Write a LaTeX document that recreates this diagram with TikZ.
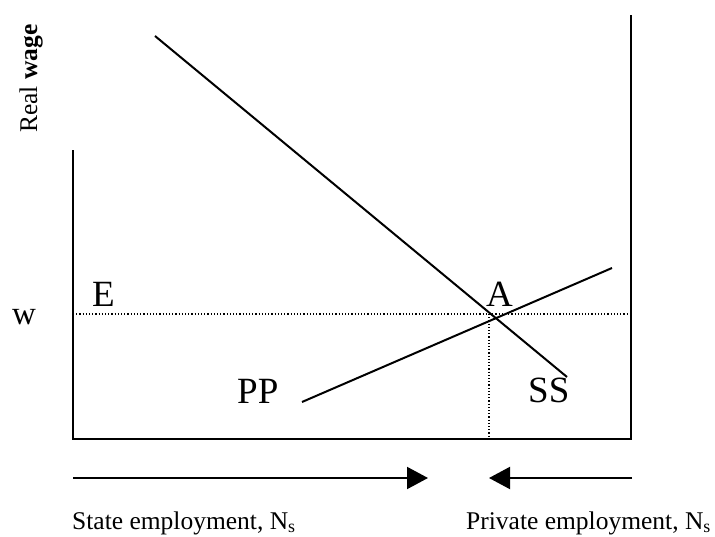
\documentclass[tikz,border=0pt]{standalone}
\usepackage{fontspec}
\setmainfont{Liberation Serif}
\usetikzlibrary{arrows.meta}
\begin{document}
\begin{tikzpicture}[x=1pt,y=-1pt,
  axisline/.style={line width=2pt,line cap=rect},
  curve/.style={line width=2pt},
  guide/.style={line width=1.2pt,dotted},
  dirarrow/.style={line width=2pt,-{Triangle[length=21pt,width=22pt]}},
  biglbl/.style={font=\fontsize{37}{40}\selectfont,inner sep=0pt,anchor=base west},
  smalllbl/.style={font=\fontsize{25.5}{28}\selectfont,inner sep=0pt,anchor=base west}]
\useasboundingbox (0,0) rectangle (715,537);
% axes
\coordinate (ltop) at (73,151);
\coordinate (lbot) at (73,439);
\coordinate (rbot) at (631,439);
\coordinate (rtop) at (631,16);
\draw[axisline] (ltop) -- (lbot) -- (rbot) -- (rtop);
% guides
\coordinate (gl) at (73,314);
\coordinate (gr) at (631,314);
\coordinate (gv) at (489,314);
\coordinate (gb) at (489,439);
\draw[guide] (gl) -- (gr);
\draw[guide] (gv) -- (gb);
% curves
\coordinate (ss1) at (155,36);
\coordinate (ss2) at (567,377);
\coordinate (pp1) at (302,402);
\coordinate (pp2) at (612,268);
\draw[curve] (ss1) -- (ss2);
\draw[curve] (pp1) -- (pp2);
% arrows
\coordinate (a1s) at (73,478);
\coordinate (a1e) at (428,478);
\coordinate (a2s) at (632,478);
\coordinate (a2e) at (489,478);
\draw[dirarrow] (a1s) -- (a1e);
\draw[dirarrow] (a2s) -- (a2e);
% labels
\node[biglbl] (E) at (92,307) {E};
\node[biglbl] (A) at (486,307) {A};
\node[biglbl] (PP) at (237,403) {PP};
\node[biglbl] (SS) at (528,402) {SS};
\node[biglbl,font=\fontsize{33}{36}\selectfont] (w) at (12,325) {w};
\node[smalllbl] (state) at (72,529) {State employment, N\textsubscript{s}};
\node[smalllbl] (private) at (466,529) {Private employment, N\textsubscript{s}};
\node[smalllbl,rotate=90] (ylab) at (37,133) {Real \textbf{wage}};
\end{tikzpicture}
\end{document}
